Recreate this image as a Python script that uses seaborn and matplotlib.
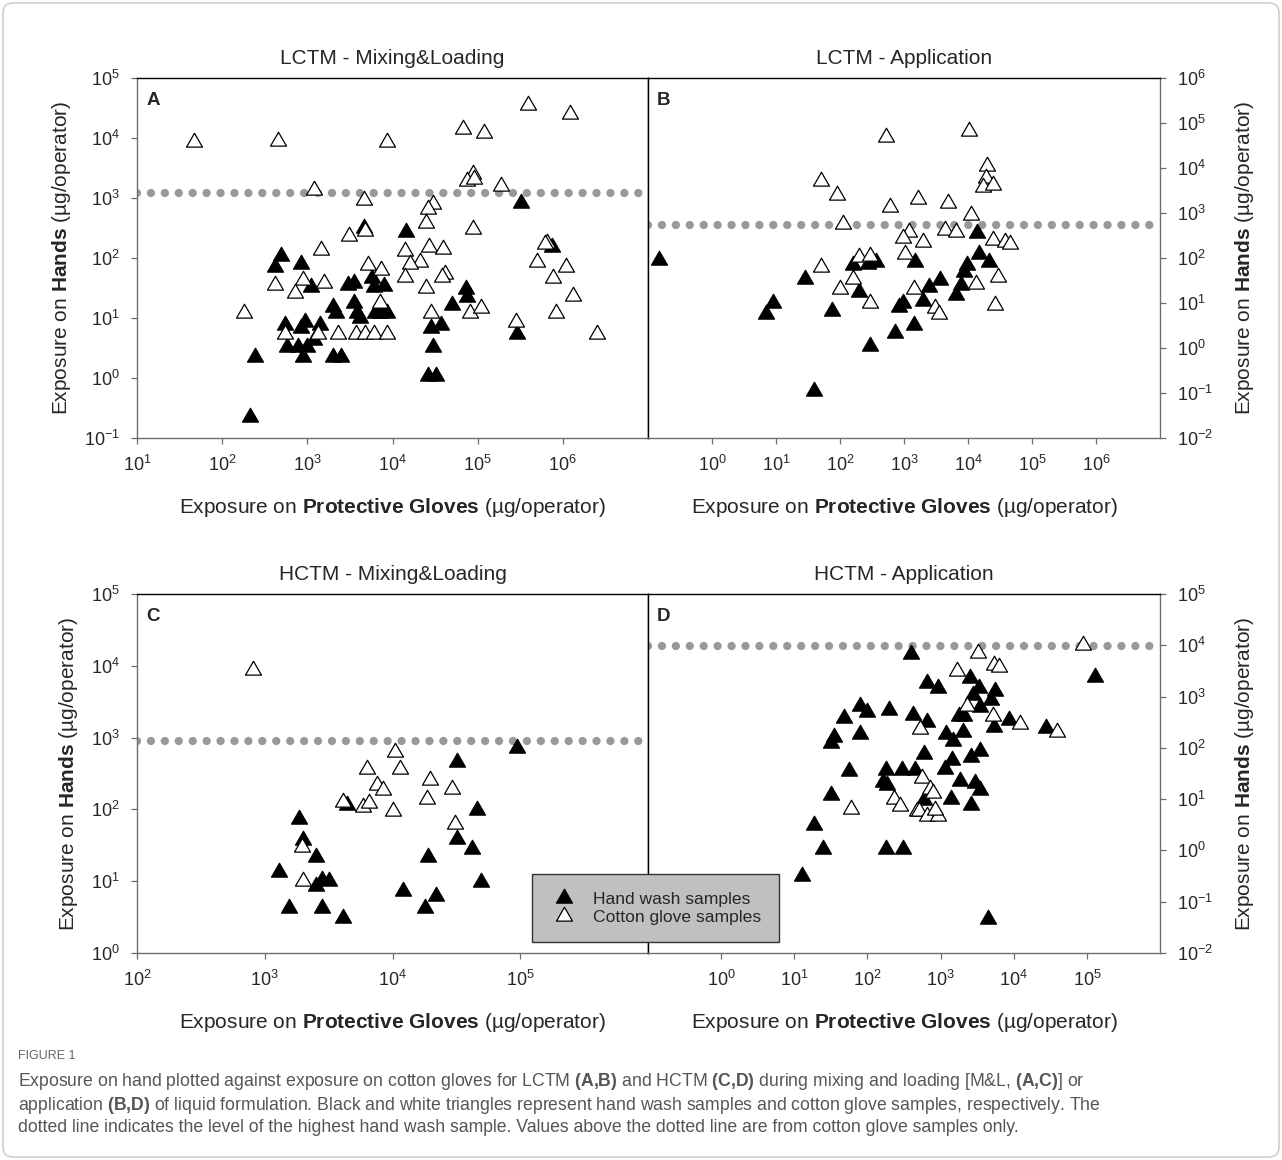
import matplotlib
matplotlib.use("Agg")
import matplotlib.pyplot as plt
import seaborn as sns
from matplotlib.lines import Line2D
from matplotlib.patches import FancyBboxPatch
from matplotlib.path import Path
from matplotlib.ticker import FixedLocator, NullLocator

# ---- data (µg/operator) ----
# LCTM - Mixing&Loading
a_hand_x = [4600, 490, 420, 850, 1100, 3000, 3500, 5800, 6000, 7900, 2000, 2200, 3500, 3800, 4200,
            6300, 8700, 7200, 550, 930, 850, 1400, 1200, 580, 780, 1000, 890, 240, 2000, 2500, 210,
            320000, 14500, 740000, 72000, 74000, 50000, 37000, 28000, 30000, 26000, 32000, 290000]
a_hand_y = [320, 110, 71, 79, 33, 35, 39, 46, 33, 34, 15.5, 12, 18, 12, 10,
            12, 12, 12, 7.6, 8.7, 6.8, 7.6, 4.3, 3.3, 3.3, 3.3, 2.2, 2.2, 2.2, 2.2, 0.22,
            830, 275, 155, 31, 22, 16.6, 7.6, 6.8, 3.3, 1.1, 1.1, 5.5]
a_cot_x = [47, 450, 8700, 1200, 4600, 4700, 3100, 1450, 5100, 7400, 420, 890, 1550, 710, 180, 7100,
           550, 1350, 2300, 3700, 4700, 6000, 8700,
           390000, 1200000, 68000, 120000, 87000, 74000, 91000, 190000, 30000, 26000, 25000, 87000,
           14000, 27000, 39000, 21000, 16000, 41000, 38000, 14000, 25000, 650000, 620000, 500000,
           1100000, 760000, 1300000, 830000, 28000, 81000, 110000, 280000, 2500000]
a_cot_y = [8700, 8900, 8700, 1350, 930, 280, 230, 135, 76, 63, 35, 43, 38, 26, 12, 18,
           5.4, 5.4, 5.4, 5.4, 5.4, 5.4, 5.4,
           35000, 25000, 14000, 12000, 2500, 1950, 2100, 1600, 790, 650, 390, 300,
           130, 150, 140, 87, 79, 55, 49, 49, 32, 180, 170, 85,
           72, 47, 23, 12, 12, 12, 14.5, 8.7, 5.4]
a_line = 1200

# LCTM - Application
b_hand_x = [0.15, 9.1, 6.9, 28, 74, 39, 160, 270, 370, 200, 290, 720, 850, 980, 1450, 1500,
            14000, 15000, 21000, 9800, 8700, 3600, 2500, 7900, 6500, 2000]
b_hand_y = [91, 10, 5.75, 34, 6.8, 0.11, 69, 74, 83, 18, 1.1, 2.2, 8.3, 9.8, 3.2, 83,
            360, 120, 83, 69, 50, 32, 23, 25, 15, 11]
b_cot_x = [520, 50, 91, 600, 1650, 110, 1200, 950, 1050, 200, 290, 50, 160, 100, 290, 1450,
           10500, 20000, 19000, 17000, 25000, 4800, 11000, 4400, 6600, 1950, 25000, 38000, 46000,
           29000, 13500, 3000, 3500, 26000]
b_cot_y = [48000, 5200, 2500, 1350, 2100, 560, 380, 275, 120, 105, 110, 62, 35, 21, 10, 21,
           68000, 11000, 5900, 3800, 4200, 1700, 910, 410, 380, 230, 250, 230, 200,
           38, 26, 7.9, 5.75, 9.1]
b_line = 540

# HCTM - Mixing&Loading
c_hand_x = [1850, 2000, 2500, 1300, 2500, 2800, 3200, 1550, 2800, 4100, 4400,
            95000, 32000, 46000, 32000, 42000, 19000, 49000, 12000, 22000, 18000]
c_hand_y = [74, 38, 22, 13.5, 8.5, 10.5, 10.2, 4.2, 4.2, 3.1, 115,
            710, 460, 98, 39, 28, 22, 9.8, 7.2, 6.3, 4.2]
c_cot_x = [810, 6300, 7600, 4100, 5900, 6600, 1950, 2000, 10500, 11500, 8500, 10000,
           19500, 29000, 18500, 31000]
c_cot_y = [8700, 370, 220, 126, 107, 123, 30, 10.2, 630, 360, 185, 95,
           260, 190, 138, 63]
c_line = 900

# HCTM - Application
d_hand_x = [400, 79, 98, 200, 420, 48, 78, 35, 32, 56, 178, 300, 450, 162, 186, 32, 18.6, 25,
            182, 310, 12.9, 650, 930, 2500, 3400, 2800, 5500, 4900, 3500, 2100, 1800, 650, 5400,
            8700, 28000, 1200, 1500, 2000, 590, 1450, 2600, 3500, 1150, 1850, 3000, 3500, 1400,
            2600, 600, 4500, 130000]
d_hand_y = [6800, 660, 510, 550, 440, 380, 190, 166, 123, 36, 37, 37, 37, 22, 19, 12, 3.16, 1.05,
            1.05, 1.05, 0.32, 1800, 1450, 2300, 1500, 1070, 1260, 850, 620, 420, 410, 320, 260,
            350, 240, 186, 138, 200, 76, 58, 66, 85, 38, 23, 21, 15, 10,
            7.8, 9.5, 0.046, 2450]
d_cot_x = [520, 59, 230, 275, 470, 3200, 5400, 6200, 1700, 89000, 2300, 5200, 12000, 39000,
           550, 720, 780, 510, 650, 930, 830]
d_cot_y = [230, 6.3, 10, 7.4, 5.75, 7200, 4200, 3700, 3200, 10200, 660, 420, 290, 200,
           26, 16, 13, 5.75, 4.6, 4.6, 6.2]
d_line = 9800

hand_label = "Hand wash samples"
cot_label = "Cotton glove samples"

# ---- style ----
sns.set_theme(style="white")
plt.rcParams["font.family"] = ["Liberation Sans", "DejaVu Sans"]
plt.rcParams["mathtext.fontset"] = "custom"
plt.rcParams["mathtext.rm"] = "Liberation Sans"
plt.rcParams["mathtext.it"] = "Liberation Sans:italic"
plt.rcParams["mathtext.bf"] = "Liberation Sans:bold"

W, H = 1282, 1160
fig = plt.figure(figsize=(W / 100, H / 100), dpi=100, facecolor="white")

# equilateral triangle marker (closed path)
tri = Path([(0, 0.577), (-0.5, -0.289), (0.5, -0.289), (0, 0.577)], closed=True)
msize = 13.3
outer = "#6e6e6e"
lab_fs = 15


def rect(l, r, t, b):
    return [l / W, 1 - b / H, (r - l) / W, (b - t) / H]


def panel(ax, hx, hy, cx, cy, line_y, xlim, ylim, xt, yt, title, letter, right):
    ax.set_xscale("log")
    ax.set_yscale("log")
    ax.axhline(line_y, color="#999999", lw=6, ls=(0, (0.001, 1.67)),
               dash_capstyle="round", zorder=1)
    sns.scatterplot(x=hx, y=hy, ax=ax, marker=tri, s=msize ** 2, color="black",
                    edgecolor="black", linewidth=0.9, zorder=3)
    sns.scatterplot(x=cx, y=cy, ax=ax, marker=tri, s=msize ** 2, color="white",
                    edgecolor="black", linewidth=0.9, zorder=4)
    ax.set_xlim(*xlim)
    ax.set_ylim(*ylim)
    ax.xaxis.set_major_locator(FixedLocator(xt))
    ax.yaxis.set_major_locator(FixedLocator(yt))
    ax.xaxis.set_minor_locator(NullLocator())
    ax.yaxis.set_minor_locator(NullLocator())
    ax.set_title(title, fontsize=lab_fs, pad=10)
    ax.text(0.018, 0.96, letter, transform=ax.transAxes, fontsize=13.5,
            fontweight="bold", va="top", ha="left")
    ax.set_xlabel(r"Exposure on $\mathbf{Protective\ Gloves}$ (µg/operator)",
                  fontsize=lab_fs, labelpad=15)
    ylab = r"Exposure on $\mathbf{Hands}$ (µg/operator)"
    if right:
        ax.yaxis.tick_right()
        ax.yaxis.set_label_position("right")
        ax.set_ylabel(ylab, fontsize=lab_fs, labelpad=14, rotation=90)
        ax.tick_params(axis="y", left=False, right=True)
        ax.spines["left"].set_color("black")
        ax.spines["right"].set_color(outer)
    else:
        ax.set_ylabel(ylab, fontsize=lab_fs, labelpad=8)
        ax.tick_params(axis="y", left=True, right=False)
        ax.spines["left"].set_color(outer)
        ax.spines["right"].set_color("black")
    ax.tick_params(axis="x", bottom=True, top=False)
    ax.tick_params(which="major", length=4.3, width=0.9, color=outer,
                   labelsize=13, pad=8)
    ax.spines["top"].set_color("black")
    ax.spines["bottom"].set_color(outer)
    for s in ax.spines.values():
        s.set_linewidth(1.0)
        s.set_visible(True)


ax_a = fig.add_axes(rect(137, 648, 78, 438))
ax_b = fig.add_axes(rect(648, 1160, 78, 438))
ax_c = fig.add_axes(rect(137, 648, 594, 953))
ax_d = fig.add_axes(rect(648, 1160, 594, 953))

panel(ax_a, a_hand_x, a_hand_y, a_cot_x, a_cot_y, a_line, (1e1, 1e7), (1e-1, 1e5),
      [1e1, 1e2, 1e3, 1e4, 1e5, 1e6], [1e-1, 1e0, 1e1, 1e2, 1e3, 1e4, 1e5],
      "LCTM - Mixing&Loading", "A", False)
panel(ax_b, b_hand_x, b_hand_y, b_cot_x, b_cot_y, b_line, (1e-1, 1e7), (1e-2, 1e6),
      [1e0, 1e1, 1e2, 1e3, 1e4, 1e5, 1e6],
      [1e-2, 1e-1, 1e0, 1e1, 1e2, 1e3, 1e4, 1e5, 1e6],
      "LCTM - Application", "B", True)
panel(ax_c, c_hand_x, c_hand_y, c_cot_x, c_cot_y, c_line, (1e2, 1e6), (1e0, 1e5),
      [1e2, 1e3, 1e4, 1e5], [1e0, 1e1, 1e2, 1e3, 1e4, 1e5],
      "HCTM - Mixing&Loading", "C", False)
panel(ax_d, d_hand_x, d_hand_y, d_cot_x, d_cot_y, d_line, (1e-1, 1e6), (1e-2, 1e5),
      [1e0, 1e1, 1e2, 1e3, 1e4, 1e5],
      [1e-2, 1e-1, 1e0, 1e1, 1e2, 1e3, 1e4, 1e5],
      "HCTM - Application", "D", True)

handles = [
    Line2D([], [], ls="none", marker=tri, markersize=msize, markerfacecolor="black",
           markeredgecolor="black", markeredgewidth=0.9),
    Line2D([], [], ls="none", marker=tri, markersize=msize, markerfacecolor="white",
           markeredgecolor="black", markeredgewidth=0.9),
]
leg = fig.legend(handles, [hand_label, cot_label], loc="upper left",
                 bbox_to_anchor=(532 / W, 1 - 874 / H), frameon=True, fancybox=False,
                 facecolor="#c0c0c0", edgecolor="#333333", framealpha=1, fontsize=12.6,
                 borderpad=1.0, labelspacing=0.15, handletextpad=0.9, handlelength=1.6,
                 borderaxespad=0)
leg.get_frame().set_linewidth(1.0)

# outer frame
fig.patches.append(FancyBboxPatch((3 / W, 3 / H), (W - 6) / W, (H - 6) / H,
                                  boxstyle="round,pad=0,rounding_size=0.008",
                                  transform=fig.transFigure, fill=False,
                                  edgecolor="#d0d0d0", lw=1.2))

# caption
cap_color = "#555555"
fig.text(18 / W, 1 - 1056 / H, "FIGURE 1", fontsize=9, color="#666666", va="center")
cap_lines = [
    r"Exposure on hand plotted against exposure on cotton gloves for LCTM $\mathbf{(A{,}B)}$ and HCTM "
    r"$\mathbf{(C{,}D)}$ during mixing and loading [M&L, $\mathbf{(A{,}C)}$] or",
    r"application $\mathbf{(B{,}D)}$ of liquid formulation. Black and white triangles represent hand "
    r"wash samples and cotton glove samples, respectively. The",
    "dotted line indicates the level of the highest hand wash sample. Values above the dotted "
    "line are from cotton glove samples only.",
]
for i, line in enumerate(cap_lines):
    fig.text(18 / W, 1 - (1082 + 23 * i) / H, line, fontsize=12.7, color=cap_color, va="center")

fig.savefig("out.png", dpi=100, facecolor="white")
